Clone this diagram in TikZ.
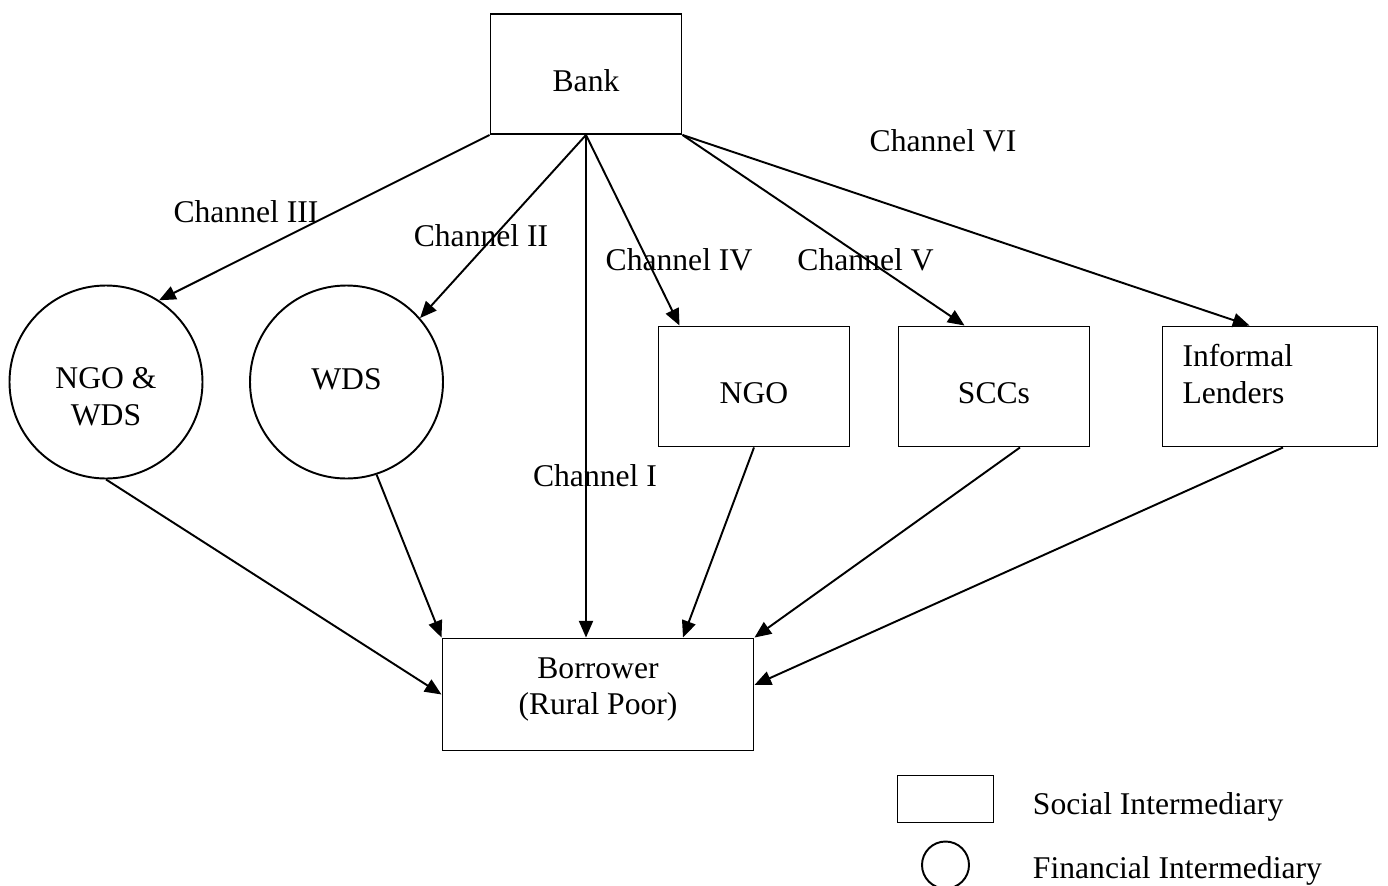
\documentclass[tikz,border=0pt]{standalone}
\usepackage{fontspec}
\setmainfont{Liberation Serif}
\usetikzlibrary{positioning, arrows.meta}

\begin{document}
\begin{tikzpicture}[>={Triangle[length=9.5pt, width=8pt]}, line width=1.1pt, on grid, node distance=4.8cm,
        font=\fontsize{18}{21}\selectfont,
        box/.style={draw, rectangle, minimum width=3.82cm, minimum height=2.4cm, inner sep=0pt},
        org/.style={draw, circle, minimum size=3.86cm, inner sep=0pt},
        every label/.style={inner sep=0pt, align=center},
        chan/.style={anchor=base, inner sep=0pt}]
        \useasboundingbox (0,0) rectangle (27.76,-17.72);

        \node[box, label={[yshift=-0.14cm]center:Bank}] (bank) at (11.72,-1.48) {};
        \node[org, label={[yshift=-0.3cm]center:NGO \&\\WDS}] (ngowds) at (2.12,-7.64) {};
        \node[org, label={[yshift=0.06cm]center:WDS}] (wds) [right=4.81cm of ngowds] {};
        \node[box, label={[yshift=-0.14cm]center:NGO}] (ngo) at (15.08,-7.73) {};
        \node[box, label={[yshift=-0.14cm]center:SCCs}] (scc) [right=of ngo] {};
        \node[box, minimum width=4.3cm, label={[text width=3.5cm, align=left, yshift=0.25cm]center:Informal\\Lenders}] (lenders) [right=5.52cm of scc] {};
        \node[box, minimum width=6.22cm, minimum height=2.24cm, label={[yshift=0.1cm]center:Borrower\\(Rural Poor)}] (borrower) at (11.96,-13.89) {};

        % channel names
        \node[chan] (ch3) at (4.92,-4.44) {Channel III};
        \node[chan] (ch2) at (9.62,-4.92) {Channel II};
        \node[chan] (ch4) at (13.58,-5.4) {Channel IV};
        \node[chan] (ch5) at (17.31,-5.4) {Channel V};
        \node[chan] (ch6) at (18.86,-3.02) {Channel VI};
        \node[chan] (ch1) at (11.9,-9.72) {Channel I};

        \path[->]
            (bank.south west) edge (ngowds.57)
            (bank.south) edge (wds.41)
            (bank.south) edge (bank.south |- borrower.north)
            (bank.south) edge ([xshift=0.44cm]ngo.north west)
            (bank.south east) edge ([xshift=1.34cm]scc.north west)
            (bank.south east) edge ([xshift=1.76cm]lenders.north west)
            (ngowds.south) edge (borrower.west)
            (wds.-72) edge (borrower.north west)
            (ngo.south) edge ([xshift=1.7cm]borrower.north)
            ([xshift=0.52cm]scc.south) edge (borrower.north east)
            ([xshift=0.26cm]lenders.south) edge ([yshift=0.19cm]borrower.east);

        % legend
        \node[draw, rectangle, minimum width=1.92cm, minimum height=0.94cm] (legbox) at (18.91,-15.98) {};
        \node[draw, circle, minimum size=0.94cm, inner sep=0pt] (legcirc) [below=1.32cm of legbox] {};
        \node[anchor=base west, inner sep=0pt] (legsoc) at (20.64,-16.28) {Social Intermediary};
        \node[anchor=base west, inner sep=0pt] (legfin) at (20.64,-17.56) {Financial Intermediary};
\end{tikzpicture}
\end{document}
